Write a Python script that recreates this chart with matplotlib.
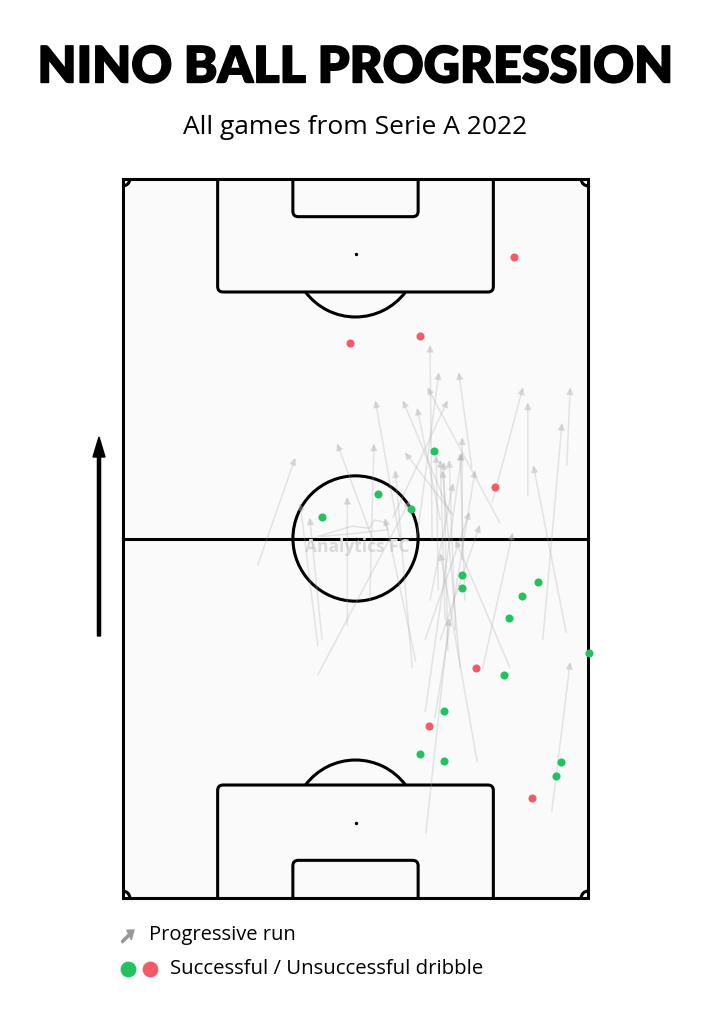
import matplotlib
matplotlib.use("Agg")
import matplotlib.pyplot as plt
import matplotlib.patheffects as pe
from matplotlib.patches import Arc, Circle, FancyBboxPatch, Rectangle, FancyArrow

# progressive runs, pitch metres (68 wide, 105 long, attacking upwards)
run_x_start = [19.7, 40.5, 45.2, 43.0, 51.0, 55.1, 54.0, 64.9, 59.2, 61.4,
               64.8, 47.8, 46.4, 39.5, 36.4, 36.1, 48.3, 49.6, 50.0, 47.1,
               48.6, 32.8, 29.1, 28.5, 44.3, 62.7, 51.8, 28.5, 42.8, 42.3,
               44.2, 45.6, 49.3, 56.6, 52.6, 44.2, 46.4, 44.9, 46.1, 47.5]
run_y_start = [48.6, 52.3, 52.3, 52.7, 62.9, 54.8, 57.8, 63.2, 58.8, 37.8,
               38.8, 56.2, 55.2, 55.6, 52.7, 43.5, 55.9, 49.4, 43.5, 40.6,
               39.1, 39.9, 37.8, 36.8, 9.5, 12.6, 19.9, 32.6, 34.6, 33.6,
               27.2, 26.3, 33.6, 33.6, 33.6, 37.8, 37.7, 43.5, 45.0, 36.2]
run_x_end = [25.2, 36.9, 44.9, 46.2, 49.1, 44.5, 58.5, 65.4, 59.2, 64.2,
             60.0, 40.9, 43.0, 47.5, 31.3, 36.7, 41.2, 49.6, 49.3, 46.4,
             47.7, 32.8, 27.3, 25.9, 47.7, 65.4, 46.4, 42.0, 38.3, 39.8,
             49.6, 51.5, 46.7, 48.6, 57.0, 50.7, 52.2, 48.3, 45.8, 46.9]
run_y_end = [64.3, 72.7, 80.8, 76.8, 76.8, 74.6, 74.6, 74.6, 72.4, 69.4,
             63.2, 72.7, 71.6, 72.7, 66.4, 66.4, 65.1, 67.3, 65.0, 64.0,
             64.0, 58.6, 55.6, 57.7, 40.9, 34.5, 50.4, 58.1, 55.5, 62.5,
             65.1, 62.5, 62.5, 52.3, 53.4, 56.4, 54.5, 60.6, 64.7, 63.7]

# dribbles
won_x = [45.5, 37.3, 29.1, 42.1, 49.6, 49.6, 60.7, 58.4, 56.4, 68.1,
         55.7, 46.9, 43.4, 46.9, 64.1, 63.3]
won_y = [65.3, 59.0, 55.6, 56.8, 47.2, 45.3, 46.1, 44.1, 40.9, 35.8,
         32.6, 27.3, 21.0, 20.0, 19.9, 17.8]
lost_x = [57.2, 33.2, 43.4, 54.4, 51.6, 44.7, 59.8]
lost_y = [93.6, 81.0, 82.1, 60.0, 33.6, 25.1, 14.6]

W, L = 68, 105
GREEN = "#22c35e"
RED = "#f35b69"
LINE = "#000000"
PITCH = "#fafafa"
LW = 2.2

fig = plt.figure(figsize=(7.1, 10.24), dpi=100)
fig.patch.set_facecolor("white")
ax = fig.add_axes([123 / 710, 1 - 898 / 1024, 465 / 710, 719 / 1024])
ax.set_xlim(0, W)
ax.set_ylim(0, L)
ax.axis("off")

# pitch
ax.add_patch(Rectangle((0, 0), W, L, facecolor=PITCH, edgecolor="none", zorder=1))
ax.plot([0, W], [L / 2, L / 2], color=LINE, lw=LW, zorder=2, clip_on=False)
ax.add_patch(Circle((W / 2, L / 2), 9.15, fill=False, edgecolor=LINE, lw=LW, zorder=2))
ax.scatter([W / 2], [L / 2], s=2, color=LINE, zorder=3)

# penalty arcs
ax.add_patch(Arc((W / 2, 11), 18.3, 18.3, theta1=37, theta2=143, color=LINE, lw=LW, zorder=2))
ax.add_patch(Arc((W / 2, L - 11), 18.3, 18.3, theta1=217, theta2=323, color=LINE, lw=LW, zorder=2))

# boxes (rounded inner corners, outer edge hidden past the goal line)
boxes = [(-1.5, 18.0, 40.32), (L - 16.5, 18.0, 40.32), (-1.5, 7.0, 18.32), (L - 5.5, 7.0, 18.32)]
for by, bh, bw in boxes:
    ax.add_patch(FancyBboxPatch((W / 2 - bw / 2, by), bw, bh,
                                boxstyle="round,pad=0,rounding_size=0.8",
                                facecolor=PITCH, edgecolor=LINE, lw=LW, zorder=2))
ax.scatter([W / 2, W / 2], [11, L - 11], s=2, color=LINE, zorder=3)

ax.add_patch(Rectangle((0, 0), W, L, fill=False, edgecolor=LINE, lw=LW, zorder=3,
                       clip_on=False))
for cx, cy, t0 in [(0, 0, 0), (W, 0, 90), (W, L, 180), (0, L, 270)]:
    ax.add_patch(Arc((cx, cy), 2, 2, theta1=t0, theta2=t0 + 90, color=LINE,
                     lw=LW, zorder=3))

# watermark
ax.text(W / 2 + 0.3, L / 2 - 1.3, "Analytics FC", ha="center", va="center",
        fontsize=12.5, fontweight="bold", color="#dadada", zorder=2.5,
        family="Open Sans")
ax.plot([28.5, 33.5, 36.0, 36.8, 38.2, 38.8, 33.5, 29.0],
        [52.8, 54.3, 54.0, 55.2, 54.9, 53.8, 53.2, 52.8],
        color="#e0e0e0", lw=1, zorder=2.5)

# runs
for xs, ys, xe, ye in zip(run_x_start, run_y_start, run_x_end, run_y_end):
    ax.annotate("", xy=(xe, ye), xytext=(xs, ys),
                arrowprops=dict(arrowstyle="-|>", color="#a8a8a8", lw=1.1,
                                mutation_scale=10, shrinkA=0, shrinkB=0,
                                alpha=0.28),
                zorder=4)

ax.scatter(won_x, won_y, s=34, color=GREEN, zorder=5, clip_on=False, linewidths=0)
ax.scatter(lost_x, lost_y, s=34, color=RED, zorder=5, clip_on=False, linewidths=0)

# direction arrow
fig.patches.append(FancyArrow(
    99 / 710, 1 - 636 / 1024, 0, (636 - 437) / 1024, width=4.5 / 1024,
    head_width=12 / 710, head_length=20 / 1024, length_includes_head=True,
    color="black", transform=fig.transFigure))

# titles
fig.text(0.5, 1 - 68 / 1024, "NINO BALL PROGRESSION", ha="center", va="center",
         fontsize=36.2, fontweight="heavy", family="Lato", color="black",
         path_effects=[pe.withStroke(linewidth=1.0, foreground="black")])
fig.text(0.5, 1 - 127 / 1024, "All games from Serie A 2022", ha="center",
         va="center", fontsize=19, family="Open Sans", color="black")

# legend
fig.patches.append(FancyArrow(
    122 / 710, 1 - 942 / 1024, 12 / 710, 12 / 1024, width=2.5 / 1024,
    head_width=8 / 710, head_length=6 / 710, length_includes_head=True,
    color="#999999", transform=fig.transFigure))
fig.text(149 / 710, 1 - 935 / 1024, "Progressive run", ha="left", va="center",
         fontsize=14.5, family="Open Sans")
leg_ax = fig.add_axes([0, 0, 1, 1], facecolor="none")
leg_ax.set_xlim(0, 710)
leg_ax.set_ylim(1024, 0)
leg_ax.axis("off")
leg_ax.scatter([128], [969], s=130, color=GREEN, linewidths=0)
leg_ax.scatter([150], [969], s=130, color=RED, linewidths=0)
fig.text(170 / 710, 1 - 969 / 1024, "Successful / Unsuccessful dribble",
         ha="left", va="center", fontsize=14.7, family="Open Sans")

fig.savefig("out.png", dpi=100, facecolor="white")
